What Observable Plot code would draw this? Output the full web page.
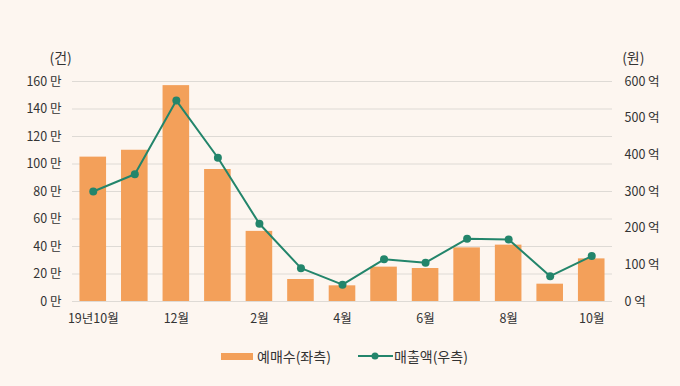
<!DOCTYPE html>
<html><head><meta charset="utf-8">
<script src="https://cdn.jsdelivr.net/npm/d3@7"></script>
<script src="https://cdn.jsdelivr.net/npm/@observablehq/plot@0.6"></script>
<style>
html,body{margin:0;padding:0;background:#fdf6f0;}
#wrap{width:680px;height:386px;background:#fdf6f0;font-family:"Noto Sans CJK KR","Noto Sans",sans-serif;}
#legend{position:relative;height:50px;font-size:14px;color:#333;}
.item{position:absolute;top:10px;display:flex;align-items:center;}
</style>
</head><body>
<div id="wrap"><div id="chart"></div>
<div id="legend">
  <div class="item" style="left:221px"><span style="display:inline-block;width:32px;height:7px;background:#f3a05a;margin-right:4px"></span>예매수(좌측)</div>
  <div class="item" style="left:358px"><svg width="35" height="10" style="margin-right:1px"><line x1="0" y1="5" x2="35" y2="5" stroke="#23856b" stroke-width="2"/><circle cx="17" cy="5" r="3.5" fill="#23856b"/></svg>매출액(우측)</div>
</div></div>
<script>
const months = ["2019-10","2019-11","2019-12","2020-01","2020-02","2020-03","2020-04","2020-05","2020-06","2020-07","2020-08","2020-09","2020-10"];
const monthLabels = ["19년10월","","12월","","2월","","4월","","6월","","8월","","10월"];
const tickets = [105, 110, 157, 96, 51, 16, 11.4, 25, 24, 39, 41, 12.6, 31]; // 만 건
const sales = [300, 347, 548, 392, 212, 91, 46, 115, 106, 171, 169, 69, 124]; // 억 원
const leftTicks = [0, 20, 40, 60, 80, 100, 120, 140, 160];
const rightTicks = [0, 100, 200, 300, 400, 500, 600];
const leftMax = 160, rightMax = 600;

const data = months.map((m, i) => ({month: m, tickets: tickets[i], sales: sales[i], salesScaled: sales[i] * leftMax / rightMax}));
const labelOf = new Map(months.map((m, i) => [m, monthLabels[i]]));

const chart = Plot.plot({
  width: 680,
  height: 336,
  marginLeft: 72,
  marginRight: 68,
  marginTop: 81,
  marginBottom: 35,
  style: {background: "transparent", fontFamily: '"Noto Sans CJK KR","Noto Sans",sans-serif', fontSize: "12px", color: "#333"},
  x: {domain: months, paddingInner: 0.36, paddingOuter: 0.18, round: false, label: null},
  y: {domain: [0, leftMax], label: null},
  marks: [
    Plot.gridY(leftTicks, {stroke: "#dedad5", strokeOpacity: 1, strokeWidth: 1}),
    Plot.axisX({tickSize: 0, tickPadding: 13, tickFormat: d => labelOf.get(d), fontSize: 12.5}),
    Plot.axisY({ticks: leftTicks, tickSize: 0, tickPadding: 11, tickFormat: d => d + " 만", label: null, fontSize: 12.5}),
    Plot.axisY({anchor: "right", ticks: rightTicks.map(v => v * leftMax / rightMax), tickSize: 0, tickPadding: 12, textAnchor: "start", tickFormat: d => Math.round(d * rightMax / leftMax) + " 억", label: null, fontSize: 12.5}),
    Plot.barY(data, {x: "month", y: "tickets", fill: "#f3a05a"}),
    Plot.line(data, {x: "month", y: "salesScaled", stroke: "#23856b", strokeWidth: 2}),
    Plot.dot(data, {x: "month", y: "salesScaled", fill: "#23856b", r: 4}),
    Plot.text(["(건)"], {frameAnchor: "top-left", dx: -23, dy: -28, fill: "#333", fontSize: 14}),
    Plot.text(["(원)"], {frameAnchor: "top-right", dx: 32, dy: -28, fill: "#333", fontSize: 14})
  ]
});
document.getElementById("chart").appendChild(chart);
</script>
</body></html>
